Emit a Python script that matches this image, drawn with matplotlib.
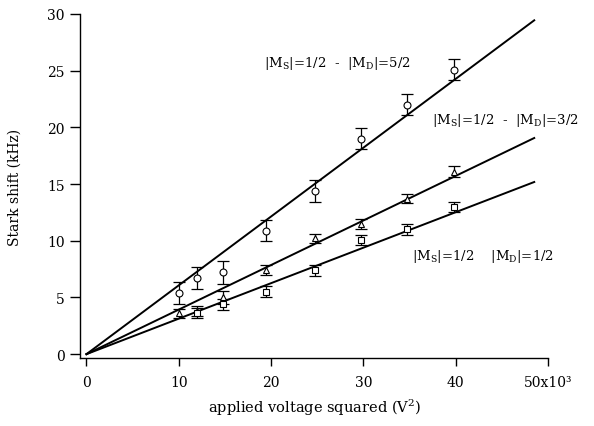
import matplotlib
matplotlib.use("Agg")
import matplotlib.pyplot as plt
import numpy as np

plt.rcParams['font.family'] = ['DejaVu Serif']
plt.rcParams['mathtext.fontset'] = 'dejavuserif'

# |M_S|=1/2 - |M_D|=5/2 (circles)
x_c = [10, 12, 14.8, 19.4, 24.8, 29.7, 34.7, 39.8]
y_c = [5.4, 6.7, 7.2, 10.9, 14.4, 19.0, 22.0, 25.1]
e_c = [0.95, 0.95, 1.0, 0.9, 0.95, 0.9, 0.95, 0.95]

# |M_S|=1/2 - |M_D|=3/2 (triangles)
x_t = [10, 12, 14.8, 19.4, 24.8, 29.7, 34.7, 39.8]
y_t = [3.6, 3.8, 5.0, 7.4, 10.2, 11.5, 13.7, 16.1]
e_t = [0.4, 0.45, 0.6, 0.45, 0.4, 0.45, 0.4, 0.45]

# |M_S|=1/2 |M_D|=1/2 (squares)
x_s = [12, 14.8, 19.4, 24.8, 29.7, 34.7, 39.8]
y_s = [3.6, 4.4, 5.5, 7.4, 10.1, 11.0, 12.95]
e_s = [0.45, 0.5, 0.5, 0.5, 0.45, 0.45, 0.45]

# fitted slopes (kHz per 10^3 V^2)
slopes = [0.607, 0.393, 0.313]
fit_xmax = 48.5

xticks = [0, 10, 20, 30, 40, 50]
xticklabels = ["0", "10", "20", "30", "40", "50x10\u00b3"]
yticks = [0, 5, 10, 15, 20, 25, 30]

fig = plt.figure(figsize=(5.94, 4.27), dpi=100)
ax = fig.add_axes([0.1347, 0.159, 0.788, 0.806])

xf = np.array([0, fit_xmax])
for s in slopes:
    ax.plot(xf, s * xf, color='black', lw=1.4, zorder=2)

ekw = dict(fmt='none', ecolor='black', elinewidth=0.9, capsize=4, capthick=0.9, zorder=3)
ax.errorbar(x_c, y_c, yerr=e_c, **ekw)
ax.errorbar(x_t, y_t, yerr=e_t, **ekw)
ax.errorbar(x_s, y_s, yerr=e_s, **ekw)

mkw = dict(linestyle='none', markerfacecolor='white', markeredgecolor='black',
           markeredgewidth=0.8, markersize=5, zorder=4)
ax.plot(x_c, y_c, marker='o', **mkw)
ax.plot(x_t, y_t, marker='^', **mkw)
ax.plot(x_s, y_s, marker='s', **dict(mkw, markersize=4.5))

ax.set_xlim(-0.7, 50)
ax.set_ylim(-0.35, 30)
ax.spines['top'].set_visible(False)
ax.spines['right'].set_visible(False)
ax.spines['left'].set_bounds(-0.35, 30)
ax.spines['bottom'].set_bounds(-0.7, 50)
for sp in ['left', 'bottom']:
    ax.spines[sp].set_linewidth(1.0)
ax.set_xticks(xticks)
ax.set_xticklabels(xticklabels)
ax.set_yticks(yticks)
ax.tick_params(axis='both', direction='out', labelsize=10, width=1.0)
ax.tick_params(axis='y', length=7, pad=4)
ax.tick_params(axis='x', length=6, pad=6)

ax.set_ylabel("Stark shift (kHz)", fontsize=10, labelpad=18)
fig.text(0.5287, 1 - 408 / 427, "applied voltage squared (V$^2$)",
         fontsize=10.5, ha='center', va='center')

tkw = dict(fontsize=9.5, va='center', ha='left')
ax.text(19.2, 25.7, r"|M$_\mathrm{S}$|=1/2  -  |M$_\mathrm{D}$|=5/2", **tkw)
ax.text(37.4, 20.7, r"|M$_\mathrm{S}$|=1/2  -  |M$_\mathrm{D}$|=3/2", **tkw)
ax.text(35.3, 8.7, r"|M$_\mathrm{S}$|=1/2    |M$_\mathrm{D}$|=1/2", **tkw)

fig.savefig("out.png", dpi=100)
